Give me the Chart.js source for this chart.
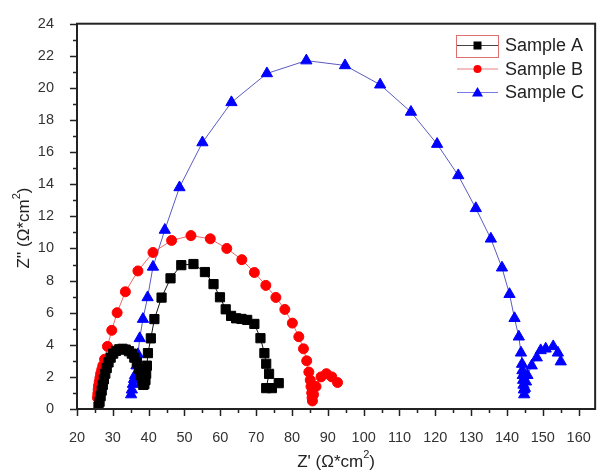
<!DOCTYPE html>
<html>
<head>
<meta charset="utf-8">
<script src="https://cdn.jsdelivr.net/npm/chart.js@4/dist/chart.umd.min.js"></script>
<style>
  body { margin: 0; background: #fff; }
  canvas { display: block; }
</style>
</head>
<body>
<canvas id="myChart" width="603" height="473"></canvas>
<script>
// Z' / Z'' values
const aX = [26.0, 26.3, 26.6, 26.9, 27.2, 27.5, 27.9, 28.3, 28.8, 29.4, 30.1, 30.9, 31.8, 32.7, 33.6, 34.5, 35.3, 36.0, 36.7, 37.3, 37.8, 38.2, 38.5, 38.8, 39.1, 39.3, 39.5, 39.8, 40.6, 41.6, 43.6, 46.1, 49.1, 52.5, 55.7, 58.1, 59.9, 61.5, 63.0, 64.4, 65.9, 67.5, 69.5, 71.2, 72.3, 72.8, 73.6, 72.8, 74.4, 76.3];
const aY = [0.15, 0.45, 0.8, 1.15, 1.5, 1.85, 2.2, 2.55, 2.9, 3.2, 3.45, 3.62, 3.72, 3.75, 3.7, 3.6, 3.45, 3.2, 2.9, 2.5, 2.1, 1.75, 1.5, 1.55, 1.8, 2.2, 2.7, 3.48, 4.4, 5.6, 6.94, 8.14, 8.96, 9.03, 8.53, 7.78, 6.96, 6.21, 5.8, 5.65, 5.61, 5.55, 5.3, 4.41, 3.48, 2.82, 2.19, 1.3, 1.3, 1.61];

const bX = [25.7, 25.8, 25.9, 26.0, 26.2, 26.4, 26.6, 26.9, 27.2, 27.7, 28.5, 29.7, 31.2, 33.5, 37.0, 41.2, 46.4, 51.8, 57.2, 61.8, 66.0, 69.5, 72.7, 75.5, 78.0, 80.1, 81.9, 83.2, 84.1, 84.7, 85.1, 85.3, 85.5, 85.6, 85.7, 86.0, 86.7, 88.1, 89.6, 91.1, 92.7];
const bY = [0.7, 0.95, 1.2, 1.45, 1.7, 1.95, 2.2, 2.45, 2.7, 3.1, 3.9, 4.9, 6.0, 7.3, 8.6, 9.75, 10.5, 10.8, 10.6, 10.0, 9.3, 8.5, 7.7, 6.95, 6.2, 5.35, 4.5, 3.75, 3.0, 2.3, 1.8, 1.4, 1.0, 0.7, 0.5, 0.9, 1.4, 2.0, 2.2, 2.0, 1.65];

const cX = [35.1, 35.3, 35.6, 35.9, 36.2, 36.6, 37.0, 37.5, 38.4, 39.7, 41.2, 44.5, 48.6, 55.0, 63.1, 73.0, 84.0, 94.8, 104.6, 113.2, 120.5, 126.4, 131.3, 135.5, 138.6, 140.7, 142.1, 143.3, 143.9, 144.2, 144.3, 144.4, 144.5, 144.6, 144.7, 144.8, 145.0, 145.3, 145.7, 146.9, 148.3, 149.4, 150.8, 152.9, 154.2, 155.0];
const cY = [0.9, 1.2, 1.55, 1.85, 2.1, 2.7, 3.4, 4.4, 5.6, 6.95, 8.85, 11.15, 13.8, 16.6, 19.1, 20.9, 21.7, 21.4, 20.2, 18.5, 16.5, 14.55, 12.5, 10.6, 8.8, 7.15, 5.65, 4.5, 3.5, 2.8, 2.4, 2.1, 1.8, 1.5, 1.2, 0.9, 1.3, 1.7, 2.1, 2.7, 3.2, 3.65, 3.75, 3.9, 3.5, 2.95];

const seriesNames = ["Sample A", "Sample B", "Sample C"];

const FONT = "'Liberation Sans', Arial, sans-serif";

function pts(xs, ys) {
  return xs.map((x, i) => ({ x: x, y: ys[i] }));
}

// frame, minor/major ticks, axis titles and legend
const decor = {
  id: "decor",
  afterDraw(chart) {
    const c = chart.ctx;
    const a = chart.chartArea;
    const xs = chart.scales.x;
    const ys = chart.scales.y;
    c.save();
    c.strokeStyle = "#222";
    c.lineWidth = 2;
    c.strokeRect(a.left, a.top, a.right - a.left, a.bottom - a.top);

    c.lineWidth = 1.5;
    c.beginPath();
    for (let v = 20; v <= 160; v += 5) {
      const px = Math.round(xs.getPixelForValue(v)) + 0.5;
      const len = v % 10 === 0 ? 7 : 4;
      c.moveTo(px, a.bottom);
      c.lineTo(px, a.bottom + len);
    }
    for (let v = 0; v <= 24; v += 1) {
      const py = Math.round(ys.getPixelForValue(v)) + 0.5;
      const len = v % 2 === 0 ? 7 : 4;
      c.moveTo(a.left, py);
      c.lineTo(a.left - len, py);
    }
    c.stroke();

    // axis titles
    c.fillStyle = "#222";
    c.textBaseline = "middle";
    function title(x, y, main, tail) {
      c.font = "17px " + FONT;
      const w1 = c.measureText(main).width;
      c.font = "11px " + FONT;
      const w2 = c.measureText("2").width;
      c.font = "17px " + FONT;
      const w3 = c.measureText(tail).width;
      const start = x - (w1 + w2 + w3) / 2;
      c.textAlign = "left";
      c.fillText(main, start, y);
      c.font = "11px " + FONT;
      c.fillText("2", start + w1, y - 7);
      c.font = "17px " + FONT;
      c.fillText(tail, start + w1 + w2, y);
    }
    title((a.left + a.right) / 2, 462, "Z' (\u03A9*cm", ")");
    c.save();
    c.translate(24, 228);
    c.rotate(-Math.PI / 2);
    title(0, 0, "Z'' (\u03A9*cm", ")");
    c.restore();

    // legend
    const rows = [45.5, 69, 92.5];
    chart.data.datasets.forEach((ds, i) => {
      const y = rows[i];
      c.strokeStyle = ds.legendLine;
      c.lineWidth = 1.2;
      c.beginPath();
      c.moveTo(457, y);
      c.lineTo(498, y);
      c.stroke();
      c.fillStyle = ds.backgroundColor;
      const mx = 477.5;
      c.beginPath();
      if (ds.pointStyle === "rect") {
        c.rect(mx - 4, y - 4, 8, 8);
      } else if (ds.pointStyle === "circle") {
        c.arc(mx, y, 4, 0, Math.PI * 2);
      } else {
        c.moveTo(mx, y - 5.5);
        c.lineTo(mx + 5.5, y + 4);
        c.lineTo(mx - 5.5, y + 4);
        c.closePath();
      }
      c.fill();
      c.fillStyle = "#222";
      c.font = "18px " + FONT;
      c.textAlign = "left";
      c.textBaseline = "middle";
      c.fillText(ds.label, 505, y + 1);
    });
    c.strokeStyle = "#e07070";
    c.lineWidth = 1;
    c.strokeRect(456.5, 35.5, 42, 22);
    c.restore();
  },
};

const ctx = document.getElementById("myChart").getContext("2d");
const myChart = new Chart(ctx, {
  type: "scatter",
  data: {
    datasets: [
      {
        label: seriesNames[0],
        data: pts(aX, aY),
        showLine: true,
        borderColor: "#111",
        backgroundColor: "#000",
        legendLine: "#444",
        borderWidth: 1,
        pointStyle: "rect",
        pointRadius: 6.5,
        pointBorderColor: "#000",
        pointBorderWidth: 1,
      },
      {
        label: seriesNames[1],
        data: pts(bX, bY),
        showLine: true,
        borderColor: "#f06464",
        backgroundColor: "#ff0000",
        legendLine: "#e88080",
        borderWidth: 1,
        pointStyle: "circle",
        pointRadius: 5,
        pointBorderColor: "#ff0000",
        pointBorderWidth: 1,
      },
      {
        label: seriesNames[2],
        data: pts(cX, cY),
        showLine: true,
        borderColor: "#5a5ac0",
        backgroundColor: "#0000ff",
        legendLine: "#7a7ae6",
        borderWidth: 1,
        pointStyle: "triangle",
        pointRadius: 6.5,
        pointBorderColor: "#0000ff",
        pointBorderWidth: 1,
      },
    ],
  },
  options: {
    responsive: false,
    animation: false,
    devicePixelRatio: 1,
    layout: { padding: { top: 21, right: 1, left: 0, bottom: 0 } },
    plugins: {
      legend: { display: false },
      tooltip: { enabled: false },
    },
    scales: {
      x: {
        type: "linear",
        min: 20,
        max: 164.6,
        grid: { display: false },
        border: { display: false },
        ticks: {
          stepSize: 10,
          includeBounds: false,
          padding: 12,
          color: "#333",
          font: { family: FONT, size: 14.5 },
          maxRotation: 0,
        },
        afterFit(scale) {
          scale.height = 64;
        },
      },
      y: {
        min: 0,
        max: 24,
        grid: { display: false },
        border: { display: false },
        ticks: {
          stepSize: 2,
          padding: 15,
          color: "#333",
          font: { family: FONT, size: 14.5 },
        },
        afterFit(scale) {
          scale.width = 77;
        },
      },
    },
  },
  plugins: [decor],
});
</script>
</body>
</html>
